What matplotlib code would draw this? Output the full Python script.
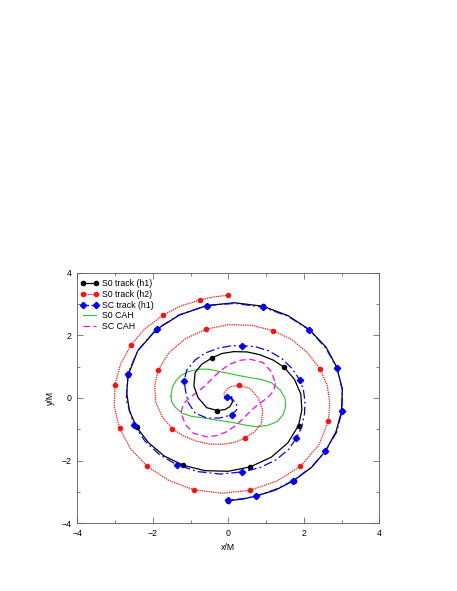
import matplotlib
matplotlib.use("Agg")
import matplotlib.pyplot as plt
from matplotlib.lines import Line2D

plt.rcParams['font.family'] = ['Liberation Sans', 'DejaVu Sans']
plt.rcParams['font.size'] = 6.3

# ---- S0 track (h1): line points and marker points ----
s0h1_x = [0.09, 0.11, 0.04, -0.09, -0.29,
          -0.57, -0.80, -0.91, -0.88, -0.70, -0.43,
          -0.17, 0.15, 0.50, 0.84, 1.19, 1.48,
          1.75, 1.92, 1.95, 1.86,
          1.58, 1.14, 0.58,
          0.00, -0.62, -1.19,
          -1.70, -2.11, -2.43,
          -2.62, -2.69, -2.65,
          -2.40, -1.91,
          -1.29, -0.57,
          0.16, 0.92,
          1.58, 2.15,
          2.59, 2.88,
          3.02, 3.00,
          2.85, 2.57,
          2.21, 1.73,
          1.25, 0.74,
          0.37, 0.00]
s0h1_y = [0.04, -0.13, -0.28, -0.37, -0.40,
          -0.31, 0.01, 0.38, 0.81, 1.08, 1.28,
          1.42, 1.48, 1.47, 1.38, 1.21, 0.98,
          0.60, 0.13, -0.38, -0.88,
          -1.43, -1.89, -2.20,
          -2.34, -2.32, -2.15,
          -1.85, -1.43, -0.93,
          -0.40, 0.16, 0.74,
          1.50, 2.18,
          2.65, 2.95,
          3.04, 2.93,
          2.63, 2.18,
          1.62, 0.97,
          0.27, -0.43,
          -1.09, -1.70,
          -2.21, -2.64,
          -2.94, -3.13,
          -3.23, -3.28]
s0h1_mx = [-0.29, -0.43, 1.48, 1.86, 0.58, -1.19, -2.43, -2.65, -1.91,
           -0.57, 0.92, 2.15, 2.88, 3.00, 2.57, 1.73, 0.74, 0.00]
s0h1_my = [-0.40, 1.28, 0.98, -0.88, -2.20, -2.15, -0.93, 0.74, 2.18,
           2.95, 2.93, 2.18, 0.97, -0.43, -1.70, -2.64, -3.13, -3.28]

# ---- S0 track (h2) ----
s0h2_x = [-0.09, -0.11, -0.04, 0.09, 0.29,
          0.57, 0.80, 0.91, 0.88, 0.70, 0.43,
          0.17, -0.15, -0.50, -0.84, -1.19, -1.48,
          -1.75, -1.92, -1.95, -1.86,
          -1.58, -1.14, -0.58,
          0.00, 0.62, 1.19,
          1.70, 2.11, 2.43,
          2.62, 2.69, 2.65,
          2.40, 1.91,
          1.29, 0.57,
          -0.16, -0.92,
          -1.58, -2.15,
          -2.59, -2.88,
          -3.02, -3.00,
          -2.85, -2.57,
          -2.21, -1.73,
          -1.25, -0.74,
          -0.37, 0.00]
s0h2_y = [-0.04, 0.13, 0.28, 0.37, 0.40,
          0.31, -0.01, -0.38, -0.81, -1.08, -1.28,
          -1.42, -1.48, -1.47, -1.38, -1.21, -0.98,
          -0.60, -0.13, 0.38, 0.88,
          1.43, 1.89, 2.20,
          2.34, 2.32, 2.15,
          1.85, 1.43, 0.93,
          0.40, -0.16, -0.74,
          -1.50, -2.18,
          -2.65, -2.95,
          -3.04, -2.93,
          -2.63, -2.18,
          -1.62, -0.97,
          -0.27, 0.43,
          1.09, 1.70,
          2.21, 2.64,
          2.94, 3.13,
          3.23, 3.28]
s0h2_mx = [0.29, 0.43, -1.48, -1.86, -0.58, 1.19, 2.43, 2.65, 1.91,
           0.57, -0.92, -2.15, -2.88, -3.00, -2.57, -1.73, -0.74, 0.00]
s0h2_my = [0.40, -1.28, -0.98, 0.88, 2.20, 2.15, 0.93, -0.74, -2.18,
           -2.95, -2.93, -2.18, -0.97, 0.43, 1.70, 2.64, 3.13, 3.28]

# ---- SC track (h1) ----
sch1_x = [-0.03, 0.12, 0.22, 0.22, 0.10,
          -0.22, -0.57, -0.88, -1.06, -1.13, -1.17,
          -1.10, -0.88, -0.62, -0.26, 0.09, 0.37,
          0.71, 1.06, 1.41, 1.68, 1.90,
          1.99, 2.03, 2.02, 1.94, 1.80,
          1.60, 1.27, 0.85, 0.37,
          -0.21, -0.81, -1.37,
          -1.83, -2.21, -2.50,
          -2.70, -2.66,
          -2.39, -1.90,
          -1.29, -0.57,
          0.18, 0.92,
          1.58, 2.15,
          2.58, 2.88,
          3.02, 3.01,
          2.87, 2.57,
          2.20, 1.72,
          1.25, 0.74,
          0.37, 0.00]
sch1_y = [0.02, -0.05, -0.20, -0.38, -0.53,
          -0.64, -0.64, -0.48, -0.15, 0.22, 0.55,
          0.89, 1.21, 1.43, 1.59, 1.67, 1.67,
          1.64, 1.51, 1.27, 0.95, 0.57,
          0.26, -0.10, -0.50, -0.95, -1.28,
          -1.64, -1.97, -2.22, -2.36,
          -2.43, -2.35, -2.13,
          -1.80, -1.37, -0.85,
          -0.06, 0.77,
          1.53, 2.20,
          2.66, 2.95,
          3.02, 2.90,
          2.61, 2.17,
          1.60, 0.96,
          0.27, -0.43,
          -1.09, -1.70,
          -2.21, -2.64,
          -2.92, -3.13,
          -3.22, -3.26]
sch1_mx = [-0.03, 0.10, -1.17, 0.37, 1.90, 1.80, 0.37, -1.37, -2.50, -2.66,
           -1.90, -0.57, 0.92, 2.15, 2.88, 3.01, 2.57, 1.72, 0.74, 0.00]
sch1_my = [0.02, -0.53, 0.55, 1.67, 0.57, -1.28, -2.36, -2.13, -0.85, 0.77,
           2.20, 2.95, 2.90, 2.17, 0.96, -0.43, -1.70, -2.64, -3.13, -3.26]

# ---- S0 CAH ----
s0cah_x = [-1.52, -1.48, -1.38, -1.25, -1.06, -0.79, -0.53, -0.26, 0.00, 0.26,
           0.53, 0.88, 1.15, 1.38, 1.50, 1.52, 1.46, 1.30, 1.06, 0.75,
           0.42, 0.15, -0.10, -0.40, -0.70, -1.00, -1.23, -1.40, -1.50, -1.52]
s0cah_y = [0.05, 0.35, 0.56, 0.72, 0.84, 0.92, 0.92, 0.85, 0.79, 0.72,
           0.66, 0.59, 0.48, 0.25, 0.00, -0.25, -0.52, -0.75, -0.87, -0.92,
           -0.86, -0.79, -0.74, -0.69, -0.63, -0.58, -0.48, -0.30, -0.12, 0.05]

# ---- SC CAH ----
sccah_x = [1.25, 1.20, 1.05, 0.84, 0.62, 0.40, 0.20, -0.05, -0.30, -0.57,
           -0.92, -1.14, -1.25, -1.20, -1.05, -0.84, -0.62, -0.40, -0.20, 0.05,
           0.30, 0.57, 0.92, 1.14, 1.25]
sccah_y = [0.47, 0.22, 0.02, -0.17, -0.38, -0.65, -0.88, -1.08, -1.20, -1.24,
           -1.13, -0.84, -0.47, -0.22, -0.02, 0.17, 0.38, 0.65, 0.88, 1.08,
           1.20, 1.24, 1.13, 0.84, 0.47]

labels = ["S0 track (h1)", "S0 track (h2)", "SC track (h1)", "S0 CAH", "SC CAH"]
xticks = [-4, -2, 0, 2, 4]
yticks = [-4, -2, 0, 2, 4]

RED = '#ff1010'
BLUE = '#0000ff'
GREEN = '#33bb33'
MAGENTA = '#ff00ff'
ls_red = (0, (1, 0.8))
ls_blue = (0, (7, 2.5, 1.5, 2.5))
ls_mag = (0, (5, 3))

fig = plt.figure(figsize=(4.57, 5.91), dpi=100)
ax = fig.add_axes([0.169, 0.1146, 0.661, 0.424])

ax.plot(s0h1_x, s0h1_y, color='black', lw=0.9, zorder=3)
ax.plot(s0h1_mx, s0h1_my, ls='none', marker='o', ms=3.0, color='black', zorder=4)
ax.plot(s0h2_x, s0h2_y, color=RED, lw=0.9, ls=ls_red, zorder=3)
ax.plot(s0h2_mx, s0h2_my, ls='none', marker='o', ms=3.0, color=RED, zorder=4)
ax.plot(sch1_x, sch1_y, color=BLUE, lw=0.9, ls=ls_blue, zorder=5)
ax.plot(sch1_mx, sch1_my, ls='none', marker='D', ms=3.2, color=BLUE, zorder=6)
ax.plot(s0cah_x, s0cah_y, color=GREEN, lw=0.8, zorder=2)
ax.plot(sccah_x, sccah_y, color=MAGENTA, lw=0.9, ls=ls_mag, zorder=2)

ax.set_xlim(-4, 4)
ax.set_ylim(-4, 4)
ax.set_xticks(xticks)
ax.set_yticks(yticks)
ax.set_xticks([-3, -1, 1, 3], minor=True)
ax.set_yticks([-3, -1, 1, 3], minor=True)
ax.tick_params(which='both', direction='in', top=True, right=True, width=0.5, color='0.3')
ax.tick_params(which='major', length=4, pad=4)
ax.tick_params(which='minor', length=2)
for s in ax.spines.values():
    s.set_linewidth(0.6)
    s.set_color('0.35')
ax.set_xlabel("x/M", labelpad=4)
ax.set_ylabel("y/M", labelpad=5)

handles = [
    Line2D([], [], color='black', lw=0.9, marker='o', ms=3.0),
    Line2D([], [], color=RED, lw=0.9, ls=ls_red, marker='o', ms=3.0),
    Line2D([], [], color=BLUE, lw=0.9, ls=(0, (4.5, 2)), marker='D', ms=3.2),
    Line2D([], [], color=GREEN, lw=0.8),
    Line2D([], [], color=MAGENTA, lw=0.9, ls=ls_mag),
]
ax.legend(handles, labels, loc='upper left', bbox_to_anchor=(-0.012, 1.0),
          frameon=False, numpoints=2,
          handlelength=2.1, handletextpad=0.45, labelspacing=0.2,
          borderaxespad=0.55, borderpad=0.2)

fig.savefig("out.png", dpi=100, facecolor='white')
